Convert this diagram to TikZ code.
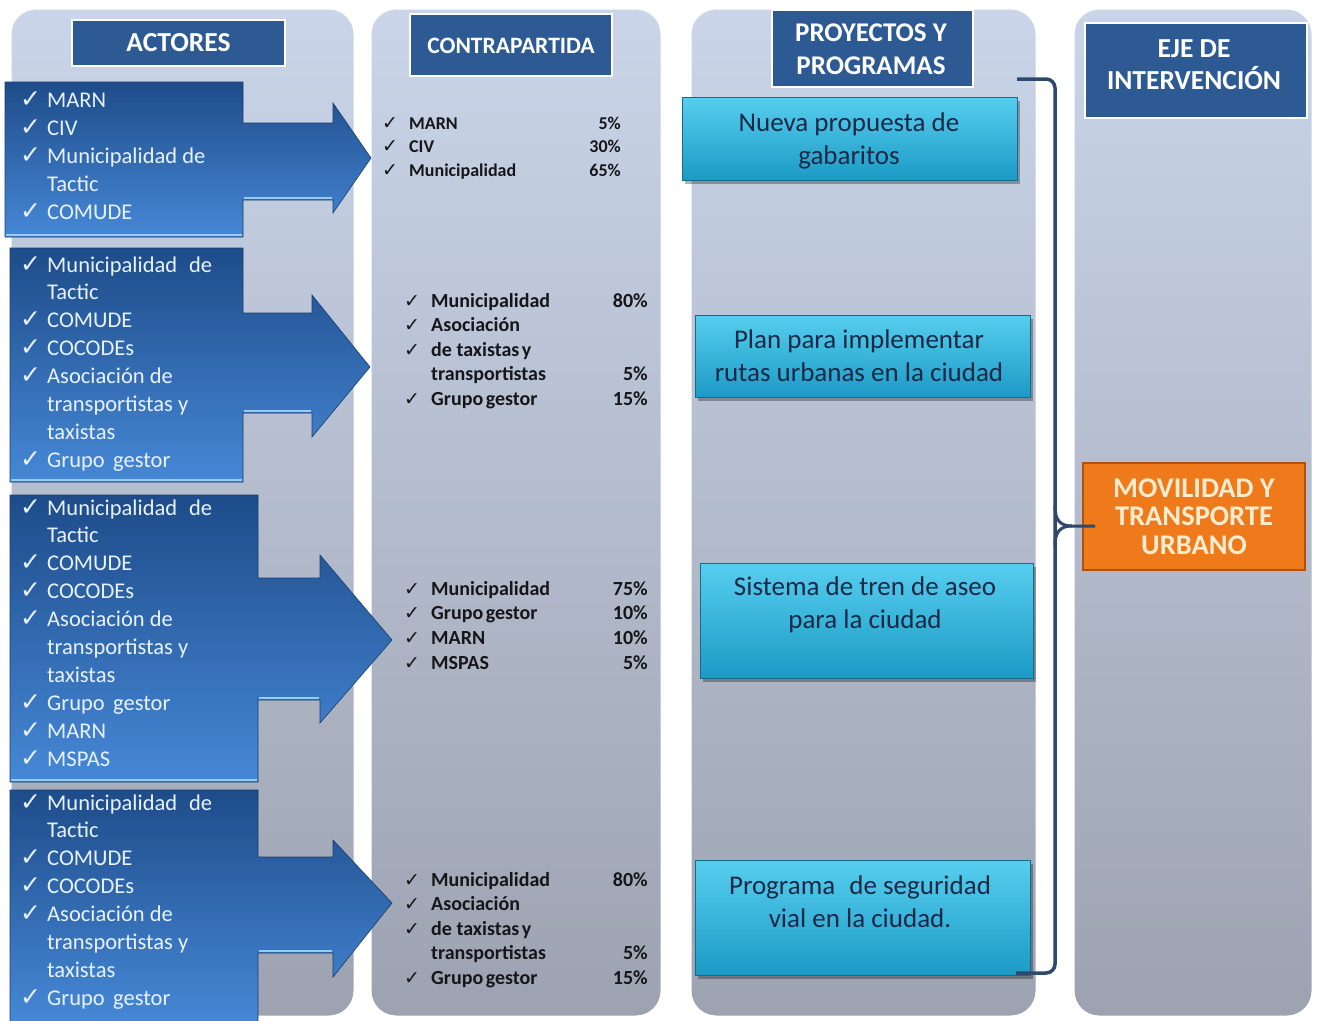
\documentclass[tikz,border=0pt]{standalone}
\usepackage{fontspec}
\setmainfont{Carlito}
\newfontfamily\symf{DejaVu Sans}
\usetikzlibrary{calc}
\definecolor{colTop}{RGB}{202,213,233}
\definecolor{colBot}{RGB}{156,162,176}
\definecolor{hdr}{RGB}{46,90,148}
\definecolor{arrD}{RGB}{30,76,138}
\definecolor{arrL}{RGB}{70,136,214}
\definecolor{arrHi}{RGB}{150,205,245}
\definecolor{actText}{RGB}{232,242,255}
\definecolor{contText}{RGB}{22,22,26}
\definecolor{cyT}{RGB}{86,206,238}
\definecolor{cyB}{RGB}{28,154,198}
\definecolor{cyText}{RGB}{28,40,70}
\definecolor{orM}{RGB}{238,122,28}
\definecolor{orD}{RGB}{176,82,12}
\definecolor{orText}{RGB}{253,236,206}
\definecolor{brk}{RGB}{46,72,110}
\def\cmark{c}
\tikzset{
  colbg/.style={top color=colTop, bottom color=colBot, draw=white, line width=3pt, rounded corners=26pt},
  hdrbox/.style={fill=hdr, draw=white, line width=2.5pt},
  hdrtxt/.style={text=white, align=center, inner sep=0pt},
  arrowshape/.style={top color=arrD, bottom color=arrL, draw=arrD!80!black, line width=0.6pt},
  arrhi/.style={draw=arrHi, line width=2pt},
  acttxt/.style={anchor=base west, inner sep=0pt, text=actText, font=\fontsize{22.5}{25}\selectfont},
  actchk/.style={anchor=base west, inner sep=0pt, text=actText, font=\symf\fontsize{25}{26}\selectfont},
  contchk/.style={anchor=base west, inner sep=0pt, text=contText, font=\symf\fontsize{19}{20}\selectfont},
  projbox/.style={top color=cyT, bottom color=cyB, draw=cyB!70!black, line width=0.8pt},
  projshadow/.style={fill=black, opacity=0.3},
  projtxt/.style={align=center, inner sep=0pt, text=cyText, font=\fontsize{27}{33}\selectfont},
  orbox/.style={fill=orM, draw=orD, line width=2pt, text=orText, align=center, inner sep=0pt,
    font=\bfseries\fontsize{28.5}{28.5}\selectfont},
  brkline/.style={draw=brk, line width=3.5pt, rounded corners=9pt},
}
\newcommand{\actorlist}[4]{%
  \foreach \xk/\xt [count=\xi from 0] in {#4} {
    \node[acttxt] (#1t\xi) at (47, #2+\xi*#3) {\xt};
    \ifx\xk\cmark \node[actchk] (#1c\xi) at (20, #2+\xi*#3) {✓};\fi
  }}
\newcommand{\contlist}[8]{%
  \foreach \xk/\xt/\xp [count=\xi from 0] in {#7} {
    \node[anchor=base west, inner sep=0pt, text=contText, font=\bfseries\fontsize{#8}{#8}\selectfont] (#1n\xi) at (#3, #5+\xi*#6) {\xt};
    \ifx\xk\cmark \node[contchk] (#1c\xi) at (#2, #5+\xi*#6) {✓};\fi
    \ifx\xp\empty\else \node[anchor=base east, inner sep=0pt, text=contText, font=\bfseries\fontsize{#8}{#8}\selectfont] (#1p\xi) at (#4, #5+\xi*#6) {\xp};\fi
  }}
\begin{document}
\begin{tikzpicture}[x=1pt,y=-1pt]
\useasboundingbox[fill=white] (0,0) rectangle (1321,1020);

% columns
\path[colbg] (10,8) rectangle (355,1017);
\path[colbg] (370,8) rectangle (662,1017);
\path[colbg] (690,8) rectangle (1037,1017);
\path[colbg] (1073,8) rectangle (1313,1017);

% headers
\path[hdrbox] (72,20) rectangle (285,66);
\node[hdrtxt, font=\bfseries\fontsize{27.5}{30}\selectfont] (hAct) at (178.5,43) {ACTORES};
\path[hdrbox] (410,14) rectangle (612,76);
\node[hdrtxt, font=\bfseries\fontsize{23.5}{26}\selectfont] (hCon) at (511,46) {CONTRAPARTIDA};
\path[hdrbox] (772,10) rectangle (973,87);
\node[hdrtxt, font=\bfseries\fontsize{27}{33}\selectfont] (hPro) at (871,49) {PROYECTOS Y\\PROGRAMAS};
\path[hdrbox] (1085,23) rectangle (1307,118);
\node[hdrtxt, font=\bfseries\fontsize{27.5}{32}\selectfont] (hEje) at (1194,64.5) {EJE DE\\INTERVENCIÓN};

% actor arrows
\path[arrowshape] (5,82) -- (243,82) -- (243,123) -- (333,123) -- (333,103) -- (371,158) -- (333,213) -- (333,200) -- (243,200) -- (243,237) -- (5,237) -- cycle;
\draw[arrhi] (6,235) -- (242,235) (244,198) -- (332,198);
\path[arrowshape] (10,248) -- (243,248) -- (243,313) -- (312,313) -- (312,295) -- (370,367) -- (312,437) -- (312,413) -- (243,413) -- (243,482) -- (10,482) -- cycle;
\draw[arrhi] (11,480) -- (242,480) (244,411) -- (311,411);
\path[arrowshape] (10,495) -- (258,495) -- (258,578) -- (320,578) -- (320,555) -- (392,640) -- (320,723) -- (320,700) -- (258,700) -- (258,782) -- (10,782) -- cycle;
\draw[arrhi] (11,780) -- (257,780) (259,698) -- (319,698);
\path[arrowshape] (10,790) -- (258,790) -- (258,857) -- (333,857) -- (333,840) -- (392,903) -- (333,977) -- (333,953) -- (258,953) -- (258,1022) -- (10,1022) -- cycle;
\draw[arrhi] (259,951) -- (332,951);

% actor lists
\actorlist{aA}{107}{28}{c/MARN, c/CIV, c/Municipalidad de, n/Tactic, c/COMUDE}
\actorlist{aB}{272}{27.9}{c/Municipalidad\hspace{0.3em} de, n/Tactic, c/COMUDE, c/COCODEs, c/Asociación de, n/transportistas y, n/taxistas, c/Grupo\hspace{0.15em} gestor}
\actorlist{aC}{515}{27.9}{c/Municipalidad\hspace{0.3em} de, n/Tactic, c/COMUDE, c/COCODEs, c/Asociación de, n/transportistas y, n/taxistas, c/Grupo\hspace{0.15em} gestor, c/MARN, c/MSPAS}
\actorlist{aD}{810}{27.9}{c/Municipalidad\hspace{0.3em} de, n/Tactic, c/COMUDE, c/COCODEs, c/Asociación de, n/transportistas y, n/taxistas, c/Grupo\hspace{0.15em} gestor}

% contrapartida lists
\contlist{cA}{382}{409}{621}{129}{23.5}{c/MARN/5\%, c/CIV/30\%, c/Municipalidad/65\%}{18}
\contlist{cB}{404}{431}{648}{307}{24.5}{c/Municipalidad/80\%, c/Asociación/, c/de taxistas\hspace{-0.1em} y/, n/transportistas/5\%, c/Grupo\hspace{-0.1em} gestor/15\%}{20}
\contlist{cC}{404}{431}{648}{595}{24.7}{c/Municipalidad/75\%, c/Grupo\hspace{-0.1em} gestor/10\%, c/MARN/10\%, c/MSPAS/5\%}{20}
\contlist{cD}{404}{431}{648}{886}{24.5}{c/Municipalidad/80\%, c/Asociación/, c/de taxistas\hspace{-0.1em} y/, n/transportistas/5\%, c/Grupo\hspace{-0.1em} gestor/15\%}{20}

% project boxes
\path[projshadow] (685,101) rectangle (1020,184);
\path[projbox] (682,97) rectangle (1017,180);
\node[projtxt] (p1) at (849,141) {Nueva propuesta de\\gabaritos};
\path[projshadow] (698,319) rectangle (1033,401);
\path[projbox] (695,315) rectangle (1030,397);
\node[projtxt] (p2) at (859,356) {Plan para implementar\\rutas urbanas en la ciudad};
\path[projshadow] (703,567) rectangle (1036,682);
\path[projbox] (700,563) rectangle (1033,678);
\node[projtxt] (p3) at (865,605) {Sistema de tren de aseo\\para la ciudad};
\path[projshadow] (698,864) rectangle (1033,979);
\path[projbox] (695,860) rectangle (1030,975);
\node[projtxt] (p4) at (860,902) {Programa\hspace{0.3em} de seguridad\\vial en la ciudad.};

% eje
\node[orbox, minimum width=222pt, minimum height=107pt] (mov) at (1194,516.5) {MOVILIDAD Y\\TRANSPORTE\\URBANO};

% bracket
\coordinate (bTop) at (1017,79);
\coordinate (bBot) at (1016,973);
\coordinate (bTip) at (1095,526);
\draw[brkline] (bTop) -- (1055,79) -- (1055,973) -- (bBot);
\draw[draw=brk, line width=3pt] (1055,506) .. controls (1055,520) and (1060,526) .. (1072,526) -- (bTip);
\draw[draw=brk, line width=3pt] (1072,526) .. controls (1060,526) and (1055,532) .. (1055,546);
\end{tikzpicture}
\end{document}
